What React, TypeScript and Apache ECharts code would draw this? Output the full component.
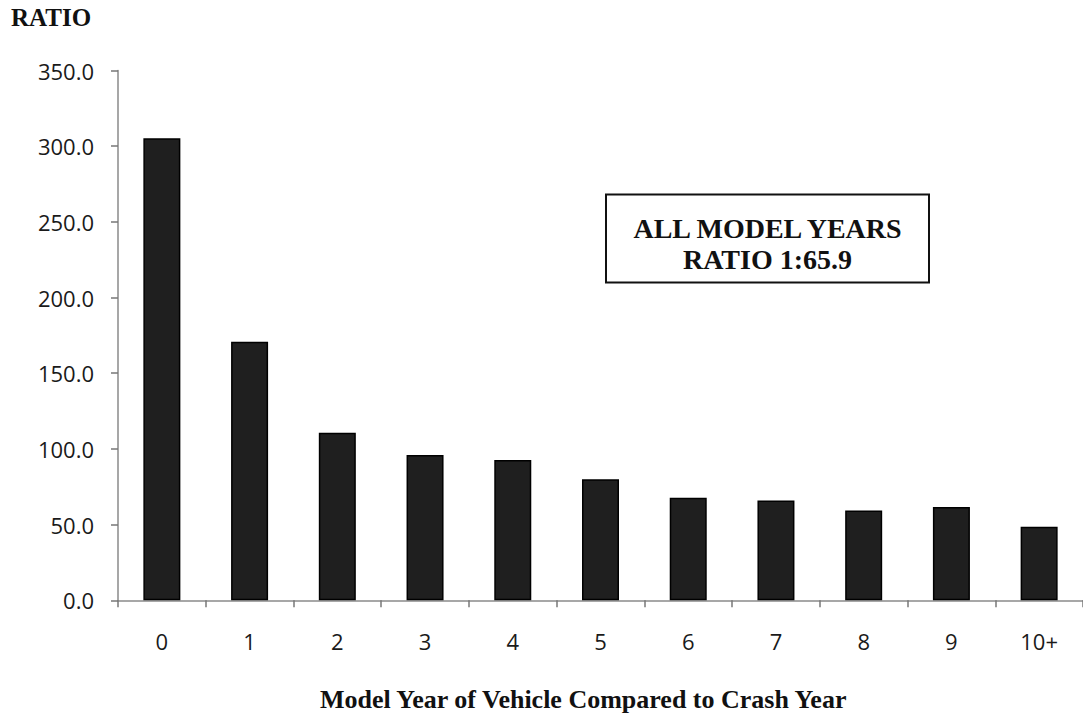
import React, { useEffect, useRef } from "react";
import * as echarts from "echarts";

const categories = ["0", "1", "2", "3", "4", "5", "6", "7", "8", "9", "10+"];
const ratios = [305.2, 170.8, 110.7, 96.0, 92.7, 79.9, 67.8, 66.0, 59.4, 61.6, 48.6];
const yTicks = { min: 0, max: 350, interval: 50 };
const yTitle = "RATIO";
const xTitle = "Model Year of Vehicle Compared to Crash Year";
const boxLines = ["ALL MODEL YEARS", "RATIO 1:65.9"];

export default function App() {
  const ref = useRef<HTMLDivElement>(null);
  useEffect(() => {
    if (!ref.current) return;
    const chart = echarts.init(ref.current, null, { renderer: "svg" });
    const serif = '"Liberation Serif", "Times New Roman", serif';
    const sans = '"Open Sans", sans-serif';
    chart.setOption({
      animation: false,
      backgroundColor: "#ffffff",
      grid: { left: 118, top: 70.5, width: 970, height: 529.8 },
      xAxis: {
        type: "category",
        data: categories,
        axisLine: { show: true, lineStyle: { color: "#8a8a8a", width: 1.5 } },
        axisTick: { show: true, alignWithLabel: false, length: 7, lineStyle: { color: "#777", width: 1.5 } },
        axisLabel: { color: "#1a1a1a", fontFamily: sans, fontSize: 22, margin: 30 },
        splitLine: { show: false },
      },
      yAxis: {
        type: "value",
        min: yTicks.min,
        max: yTicks.max,
        interval: yTicks.interval,
        axisLine: { show: true, lineStyle: { color: "#8a8a8a", width: 1.5 } },
        axisTick: { show: true, length: 7, lineStyle: { color: "#777", width: 1.5 } },
        axisLabel: {
          color: "#1a1a1a",
          fontFamily: sans,
          fontSize: 22,
          margin: 24,
          formatter: (v: number) => v.toFixed(1),
        },
        splitLine: { show: false },
      },
      series: [
        {
          type: "bar",
          data: ratios,
          barWidth: 37,
          itemStyle: { color: "#1f1f1f", borderColor: "#000", borderWidth: 1.5 },
        },
      ],
      graphic: [
        {
          type: "text",
          left: 11,
          top: 5,
          style: { text: yTitle, font: `bold 25px ${serif}`, fill: "#111" },
        },
        {
          type: "text",
          left: 320,
          top: 686,
          style: { text: xTitle, font: `bold 26px ${serif}`, fill: "#111" },
        },
        {
          type: "rect",
          shape: { x: 606, y: 194.5, width: 323, height: 88 },
          style: { fill: "#fff", stroke: "#111", lineWidth: 2 },
        },
        {
          type: "text",
          x: 767.5,
          y: 228,
          style: {
            text: boxLines[0],
            font: `bold 28px ${serif}`,
            fill: "#111",
            align: "center",
            verticalAlign: "middle",
            textAlign: "center",
            textVerticalAlign: "middle",
          },
        },
        {
          type: "text",
          x: 767.5,
          y: 259,
          style: {
            text: boxLines[1],
            font: `bold 28px ${serif}`,
            fill: "#111",
            align: "center",
            verticalAlign: "middle",
            textAlign: "center",
            textVerticalAlign: "middle",
          },
        },
      ],
    });
    return () => chart.dispose();
  }, []);
  return (
    <div
      ref={ref}
      style={{ position: "absolute", left: 0, top: 0, width: 1083, height: 713 }}
    />
  );
}
